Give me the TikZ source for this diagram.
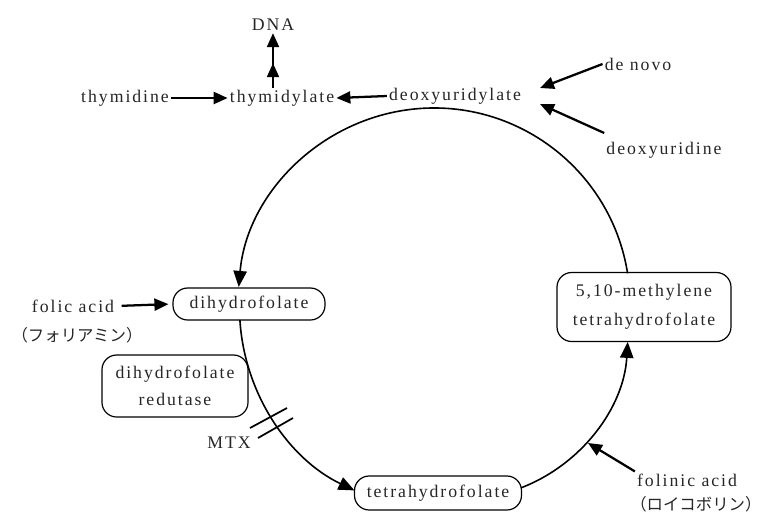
\documentclass[tikz,border=0pt]{standalone}
\usepackage{fontspec}
\setmainfont{Liberation Serif}[LetterSpace=11]
\newfontfamily\jp{Noto Sans CJK JP}
\usetikzlibrary{arrows.meta,decorations.markings}
\begin{document}
\begin{tikzpicture}[x=0.75pt,y=-0.75pt,
  every node/.style={font=\fontsize{13.3}{15}\selectfont, inner sep=1.5pt, text=black!85},
  box/.style={draw, line width=0.9pt, rounded corners=11pt, align=center, inner sep=0pt},
  arr/.style={line width=1.7pt, -{Triangle[length=10.5pt,width=9pt]}},
  cyc/.style={line width=1.2pt, -{Triangle[length=12pt,width=10pt]}},
  bar/.style={line width=1.3pt},
  jpn/.style={font=\jp\fontsize{12.3}{14}\selectfont}
]
\useasboundingbox (0,0) rectangle (768,515);

% text nodes
\node (dna) at (273,25) {DNA};
\node (thymidine) at (125,98) {thymidine};
\node (tmp) at (282,98) {thymidylate};
\node (dump) at (455,96) {deoxyuridylate};
\node (denovo) at (638,64) {de novo};
\node (dur) at (664,150) {deoxyuridine};
\node (folic) at (73,306) {folic acid};
\node[jpn] (folia) at (77,335) {（フォリアミン）};
\node (mtx) at (229,443) {MTX};
\node (folinic) at (687,480) {folinic acid};
\node[jpn, anchor=west] (leuco) at (628,504) {（ロイコボリン）};

% boxes
\node[box, minimum width=114pt, minimum height=24pt] (dhf) at (249,304) {dihydrofolate};
\node[box, minimum width=109.5pt, minimum height=46.5pt, font=\fontsize{13.3}{20}\selectfont] (dhfr) at (175,386) {dihydrofolate\\redutase};
\node[box, minimum width=125.25pt, minimum height=25.5pt] (thf) at (438,493) {tetrahydrofolate};
\node[box, minimum width=130.5pt, minimum height=51.75pt, font=\fontsize{13.3}{22}\selectfont] (meth) at (644,307) {5,10-methylene\\tetrahydrofolate};

% helper coordinates
\coordinate (dnend) at (540,88);
\coordinate (duend) at (540,104);
\coordinate (faend) at (588,443);

% straight arrows
\draw[arr] (thymidine.east) -- (tmp.west);
\draw[arr] (dump.west) -- (tmp.east);
\draw[line width=1.5pt, -{Triangle[length=10.5pt,width=9pt]},
  decoration={markings, mark=at position 0.45 with {\arrow{Triangle[length=10.5pt,width=9pt]}}},
  postaction={decorate}] (dna.south |- tmp.north) -- (dna.south);
\draw[arr] (denovo.west) -- (dnend);
\draw[arr] ([yshift=5pt]dur.north west) -- (duend);
\draw[arr, shorten <=4pt, shorten >=3pt] (folic.east) -- (dhf.west);
\draw[arr] (folinic.north west) -- (faend);

% cycle arcs
\path (434,304) ++(-9:196) coordinate (c1);
\draw[cyc] (c1) arc[start angle=-9, end angle=-175, radius=196];
\path (442.5,307.5) ++(176.5:203) coordinate (c2);
\draw[cyc] (c2) arc[start angle=176.5, end angle=115.7, radius=203];
\path (461,332) ++(69:167) coordinate (c3);
\draw[cyc] (c3) arc[start angle=69, end angle=3.4, radius=167];

% MTX block bars
\draw[bar] (250,428) -- (287,408);
\draw[bar] (258,438) -- (293,418);
\end{tikzpicture}
\end{document}
